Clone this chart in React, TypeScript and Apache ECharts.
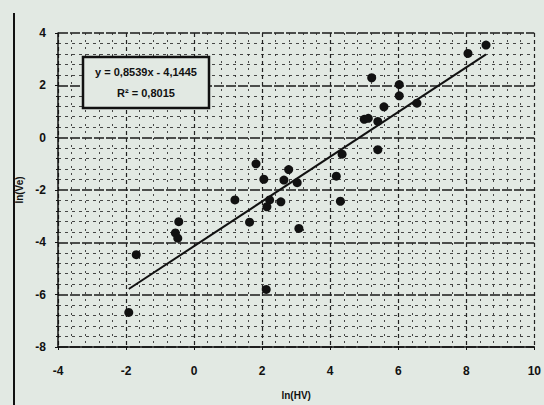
import React, { useEffect, useRef } from "react";
import * as echarts from "echarts";

const xValues = [8.58, 8.05, 5.22, 6.03, 6.03, 6.55, 5.58, 5.0, 5.12, 5.4, 5.4, 4.35, 4.18, 4.3, 1.82, 2.05, 2.78, 2.64, 3.03, 2.22, 2.14, 2.55, 1.2, 1.63, 3.08, -0.45, -0.55, -0.48, -1.7, 2.12, -1.92];
const yValues = [3.54, 3.22, 2.29, 2.03, 1.6, 1.32, 1.18, 0.7, 0.74, 0.62, -0.46, -0.63, -1.47, -2.43, -1.0, -1.59, -1.22, -1.62, -1.72, -2.38, -2.64, -2.45, -2.38, -3.23, -3.47, -3.21, -3.64, -3.84, -4.47, -5.8, -6.68];
const slope = 0.8539;
const intercept = -4.1445;
const equationLines = ["y = 0,8539x - 4,1445", "R² = 0,8015"];
const xAxisName = "ln(HV)";
const yAxisName = "ln(Ve)";

const BG = "#e2e9e3";
const INK = "#111111";
const FONT = "'Liberation Sans', Arial, sans-serif";

export default function App() {
  const ref = useRef<HTMLDivElement>(null);
  useEffect(() => {
    document.body.style.margin = "0";
    const chart = echarts.init(ref.current!, null, { renderer: "svg" });
    const points = xValues.map((x, i) => [x, yValues[i]]);
    const xMin = Math.min(...xValues);
    const xMax = Math.max(...xValues);
    const trend = [
      [xMin, slope * xMin + intercept],
      [xMax, slope * xMax + intercept],
    ];
    const labelStyle = { color: INK, fontWeight: "bold" as const, fontSize: 12, fontFamily: FONT };
    chart.setOption({
      animation: false,
      backgroundColor: BG,
      grid: { left: 58, right: 9, top: 33, bottom: 55 },
      xAxis: {
        type: "value",
        min: -4,
        max: 10,
        interval: 2,
        name: xAxisName,
        nameLocation: "middle",
        nameGap: 43,
        nameTextStyle: { ...labelStyle, fontSize: 10 },
        axisLine: { onZero: false, lineStyle: { color: INK, width: 1.5 } },
        axisTick: { show: true, length: 3, lineStyle: { color: INK } },
        axisLabel: { ...labelStyle, margin: 18 },
        splitLine: { show: true, lineStyle: { color: "#222", width: 1.2, type: [4, 3] } },
        minorTick: { show: false, splitNumber: 5 },
        minorSplitLine: { show: true, lineStyle: { color: "#2a2a2a", width: 1, type: [2, 5], opacity: 0.85 } },
      },
      yAxis: {
        type: "value",
        min: -8,
        max: 4,
        interval: 2,
        name: yAxisName,
        nameLocation: "middle",
        nameGap: 32,
        nameRotate: 90,
        nameTextStyle: { ...labelStyle, fontSize: 10 },
        axisLine: { show: true, onZero: false, lineStyle: { color: INK, width: 1.5 } },
        axisTick: { show: true, length: 3, lineStyle: { color: INK } },
        minorTick: { show: true, splitNumber: 5, length: 2, lineStyle: { color: INK } },
        axisLabel: { ...labelStyle, margin: 12 },
        splitLine: { show: true, lineStyle: { color: "#1a1a1a", width: 1.5, type: [10, 2] } },
        minorSplitLine: { show: true, lineStyle: { color: "#2a2a2a", width: 1, type: [3, 4], opacity: 0.85 } },
      },
      graphic: [
        { type: "line", shape: { x1: 14, y1: 13, x2: 14, y2: 405 }, style: { stroke: INK, lineWidth: 2 }, z: 10 },
        {
          type: "rect",
          shape: { x: 83, y: 57, width: 126, height: 51 },
          style: { fill: BG, stroke: INK, lineWidth: 2.5 },
          z: 10,
        },
        {
          type: "text",
          x: 146,
          y: 72,
          style: { text: equationLines[0], fill: INK, font: `bold 11px ${FONT}`, align: "center", verticalAlign: "middle" },
          z: 11,
        },
        {
          type: "text",
          x: 146,
          y: 93,
          style: { text: equationLines[1], fill: INK, font: `bold 11px ${FONT}`, align: "center", verticalAlign: "middle" },
          z: 11,
        },
      ],
      series: [
        {
          type: "scatter",
          data: points,
          symbol: "circle",
          symbolSize: 9,
          itemStyle: { color: INK, opacity: 1 },
          z: 5,
        },
        {
          type: "line",
          data: trend,
          symbol: "none",
          lineStyle: { color: INK, width: 2 },
          z: 4,
        },
      ],
    });
    return () => chart.dispose();
  }, []);
  return <div ref={ref} style={{ width: 544, height: 405, background: BG }} />;
}
